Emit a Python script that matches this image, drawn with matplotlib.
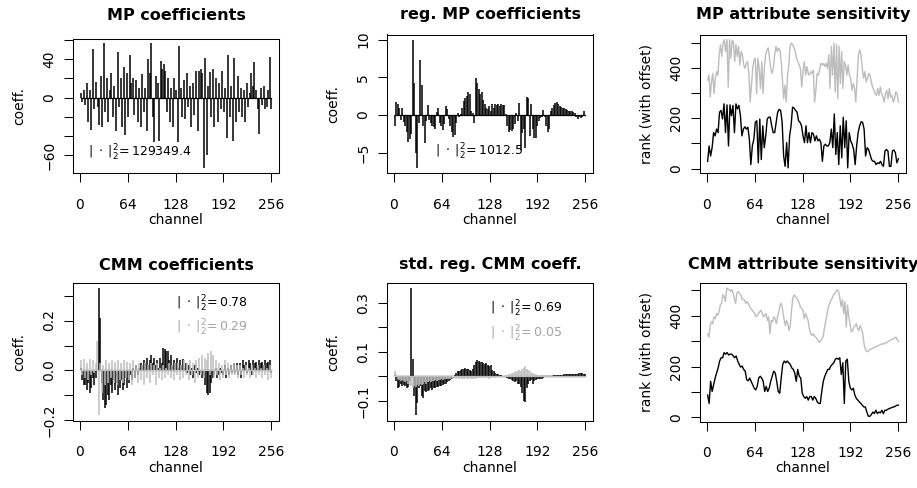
import numpy as np
import matplotlib
matplotlib.use("Agg")
import matplotlib.pyplot as plt

W, H = 917, 488
GREY = "#bdbdbd"
GREY_TXT = "#a3a3a3"

# ---------------- data (channel order 1..256) ----------------
mp_coef = [5, -5, 8, -8, 15, -25, 8, -34, 50, -12,
           16, -10, -28, 22, -30, 56, -15, 20, -25, 8,
           25, -20, 12, -35, 47, -10, 20, -30, 32, -39,
           25, -20, 44, 15, 20, -18, 18, -25, 10, -30,
           24, -15, 10, -35, 40, 25, 56, -20, -46, 22,
           15, -45, 38, 30, 35, 28, -15, 20, -25, 10,
           -30, 20, 8, -46, 53, 10, -20, 18, -22, 25,
           -10, 12, -30, 15, -18, 27, -35, 27, 30, 25,
           -73, 41, -59, 12, 26, -20, 30, -30, 20, -25,
           15, -12, 28, -15, 10, -42, 44, -20, 12, -45,
           41, -25, 22, -15, 10, -20, 8, -25, 15, -10,
           5, 25, 12, 37, 8, -12, -38, 10, -8, 12,
           -12, -10, 8, 42, -12]

reg_mp_coef = [-1.4, 1.7, 1.5, 1.0, -0.6, 1.0, -0.9, -1.5, -2.3, -3.6,
               -3.2, -2.5, 10.0, 4.2, -5.0, -7.0, -1.0, 7.3, 4.0, -1.5,
               -3.7, -0.8, 1.3, -0.6, -1.0, -1.4, -1.6, -1.8, 0.4, 1.0,
               -1.0, -1.5, -2.0, -1.2, 1.2, 0.8, -0.5, -1.5, -2.2, -2.9,
               -2.6, -1.0, 0.3, -0.3, 0.2, 1.0, 1.8, 2.2, 2.5, 3.0,
               2.8, 0.5, 0.3, -1.0, 4.9, 4.3, 3.5, 2.8, 3.0, 2.0,
               1.5, 1.0, 0.8, 1.2, 0.6, 1.5, 1.0, 1.5, 1.4, 1.5,
               1.2, 1.5, 1.3, 1.4, 0.1, -1.5, -2.2, -2.0, -2.1, -1.8,
               -1.2, 0.3, -0.8, 1.6, -4.6, -2.4, -1.8, -4.3, 2.4, 2.3,
               -2.8, 1.5, -1.8, -3.0, -3.0, -1.5, -0.8, -0.4, -0.2, 0.7,
               -0.3, -1.5, -2.2, -1.8, 0.5, 1.0, 1.3, 1.6, 1.7, 1.5,
               1.2, 1.1, 1.0, 0.9, 0.8, 0.7, 0.6, 0.6, 0.5, 0.4,
               0.3, -0.3, -0.5, -0.2, -0.4, -0.3, 0.5, -0.1]

mp_rank = [29, 90, 50, 83, 143, 130, 157, 143, 224, 231,
           197, 257, 143, 253, 90, 253, 210, 251, 143, 257,
           237, 251, 210, 130, 157, 166, 157, 164, 117, 16,
           90, 117, 184, 190, 23, 197, 36, 170, 83, 130,
           197, 204, 204, 170, 143, 143, 184, 224, 235, 231,
           184, 50, 9, 103, 3, 130, 170, 244, 240, 231,
           224, 190, 184, 170, 130, 103, 170, 103, 143, 103,
           143, 137, 110, 130, 110, 117, 103, 29, 90, 97,
           90, 90, 103, 157, 83, 217, 56, 143, 16, 170,
           43, 204, 83, 190, 3, 143, 110, 97, 76, 16,
           90, 143, 170, 186, 184, 157, 50, 83, 76, 56,
           36, 29, 29, 16, 23, 20, 29, 16, 9, 70,
           76, 70, 9, 9, 70, 74, 63, 23, 39]

mp_rank_offset = [351, 371, 284, 344, 378, 298, 358, 385, 371, 452,
                  492, 445, 499, 512, 465, 512, 324, 512, 438, 508,
                  505, 425, 492, 445, 485, 411, 465, 452, 411, 398,
                  418, 425, 378, 264, 331, 398, 432, 438, 298, 438,
                  398, 318, 425, 298, 398, 452, 472, 479, 438, 398,
                  378, 398, 452, 485, 465, 479, 472, 432, 358, 277,
                  331, 264, 371, 411, 485, 499, 492, 479, 465, 438,
                  425, 411, 398, 324, 385, 425, 371, 405, 378, 371,
                  385, 378, 391, 264, 311, 378, 371, 398, 418, 411,
                  418, 405, 418, 398, 452, 318, 485, 371, 499, 304,
                  492, 277, 485, 338, 465, 318, 425, 411, 371, 411,
                  371, 358, 311, 338, 318, 264, 358, 452, 472, 452,
                  398, 358, 385, 344, 358, 378, 371, 344, 324, 311,
                  298, 291, 318, 291, 324, 298, 284, 264, 298, 311,
                  277, 318, 284, 291, 264, 277, 304, 298, 264]

cmm_coef = [0.01, -0.04, -0.06, -0.06, -0.08, -0.05, -0.09, -0.07, -0.03, -0.06,
            -0.03, 0.0, 0.33, 0.21, -0.05, -0.12, -0.15, -0.14, -0.10, -0.12,
            -0.06, -0.09, -0.04, -0.08, -0.05, -0.10, -0.07, -0.04, -0.08, -0.06,
            -0.03, -0.07, -0.05, -0.02, -0.04, 0.01, -0.03, 0.02, -0.02, 0.01,
            0.03, 0.02, 0.04, 0.03, 0.05, 0.02, 0.04, 0.06, 0.03, 0.05,
            0.02, 0.04, 0.01, 0.05, 0.03, 0.09, 0.085, 0.08, 0.08, 0.04,
            0.06, 0.02, 0.04, 0.03, 0.05, 0.01, 0.04, 0.02, 0.045, 0.01,
            0.03, -0.01, 0.02, -0.02, 0.01, -0.03, 0.02, -0.01, 0.01, -0.02,
            -0.01, -0.03, -0.02, -0.06, -0.09, -0.10, -0.09, -0.05, -0.03, -0.02,
            0.01, -0.03, -0.02, 0.01, -0.01, -0.02, 0.02, -0.03, 0.01, -0.02,
            0.02, -0.01, 0.03, -0.01, 0.03, -0.02, 0.03, -0.03, 0.04, 0.02,
            0.035, -0.01, 0.04, 0.03, -0.02, 0.04, 0.03, 0.035, 0.01, 0.04,
            0.03, 0.035, 0.02, 0.04, 0.03, 0.035, 0.04, -0.01]

cmm_coef_alt = [0.04, -0.02, 0.045, -0.03, 0.03, -0.04, 0.045, -0.02, 0.04, -0.01,
                0.03, 0.12, -0.18, 0.03, -0.09, 0.02, -0.06, 0.04, -0.05, 0.03,
                -0.03, 0.04, -0.05, 0.035, -0.06, 0.04, -0.04, 0.03, -0.05, 0.04,
                -0.03, 0.035, -0.04, 0.03, -0.06, 0.04, -0.03, 0.02, -0.05, 0.03,
                -0.04, 0.02, -0.06, 0.03, -0.03, 0.02, -0.05, 0.03, -0.02, 0.02,
                -0.06, 0.03, -0.03, 0.01, -0.04, 0.02, -0.03, 0.01, -0.02, 0.03,
                -0.03, 0.02, -0.04, 0.03, -0.02, 0.03, -0.04, 0.02, -0.03, 0.04,
                -0.02, 0.03, -0.04, 0.04, -0.02, 0.03, -0.05, 0.04, -0.03, 0.05,
                -0.02, 0.06, -0.03, 0.05, 0.04, 0.07, -0.02, 0.08, 0.06, -0.03,
                0.04, -0.02, 0.03, -0.04, 0.02, -0.03, 0.04, -0.02, 0.03, -0.03,
                0.02, -0.02, 0.03, -0.02, 0.02, -0.03, 0.02, -0.02, 0.01, -0.03,
                0.02, -0.02, 0.01, -0.03, 0.02, -0.02, 0.01, -0.03, 0.02, -0.02,
                0.01, -0.03, 0.02, -0.02, 0.01, -0.04, 0.02, -0.03]

std_cmm_coef = [0.005, -0.02, -0.05, -0.045, -0.03, -0.04, -0.035, -0.04, -0.05, -0.045,
                -0.02, 0.36, 0.07, -0.08, -0.16, -0.11, -0.05, -0.04, -0.08, -0.09,
                -0.06, -0.065, -0.06, -0.055, -0.05, -0.055, -0.05, -0.05, -0.045, -0.045,
                -0.04, -0.04, -0.035, -0.03, -0.03, -0.025, -0.02, -0.015, -0.01, -0.005,
                0.005, 0.015, 0.02, 0.02, 0.025, 0.03, 0.03, 0.035, 0.03, 0.03,
                0.025, 0.02, 0.03, 0.045, 0.06, 0.065, 0.062, 0.06, 0.058, 0.055,
                0.05, 0.055, 0.045, 0.04, 0.045, 0.025, 0.02, 0.015, 0.01, 0.01,
                0.005, 0.003, 0.0, -0.003, -0.005, -0.008, -0.01, -0.012, -0.015, -0.02,
                -0.025, -0.02, -0.03, -0.03, -0.045, -0.07, -0.1, -0.105, -0.05, -0.03,
                -0.02, -0.015, -0.03, -0.02, -0.015, -0.01, -0.01, -0.012, -0.01, -0.008,
                -0.005, -0.003, 0.0, 0.0, 0.002, 0.003, 0.004, 0.005, 0.006, 0.006,
                0.007, 0.007, 0.007, 0.008, 0.008, 0.008, 0.009, 0.009, 0.009, 0.01,
                0.01, 0.01, 0.011, 0.012, 0.012, 0.012, 0.01, 0.008]

std_cmm_coef_alt = [0.02, 0.01, -0.01, -0.015, -0.02, -0.015, -0.02, -0.025, -0.02, -0.03,
                    -0.035, -0.04, -0.05, -0.04, -0.045, -0.035, -0.04, -0.03, -0.035, -0.03,
                    -0.025, -0.03, -0.025, -0.02, -0.025, -0.02, -0.02, -0.015, -0.02, -0.015,
                    -0.015, -0.012, -0.015, -0.01, -0.012, -0.01, -0.012, -0.01, -0.008, -0.01,
                    -0.008, -0.01, -0.006, -0.01, -0.008, -0.012, -0.01, -0.008, -0.012, -0.01,
                    -0.008, -0.012, -0.01, -0.008, -0.01, -0.006, -0.008, -0.005, -0.008, -0.006,
                    -0.005, -0.008, -0.006, -0.01, -0.006, -0.008, -0.005, -0.007, -0.005, -0.004,
                    -0.003, -0.004, -0.002, 0.0, 0.003, 0.005, 0.008, 0.01, 0.012, 0.015,
                    0.018, 0.02, 0.022, 0.025, 0.02, 0.03, 0.035, 0.04, 0.03, 0.025,
                    0.02, 0.015, 0.012, 0.01, 0.008, 0.006, 0.005, 0.005, 0.004, 0.004,
                    0.003, 0.003, 0.003, 0.003, 0.003, 0.003, 0.002, 0.002, 0.002, 0.002,
                    0.002, 0.002, 0.002, 0.002, 0.002, 0.002, 0.002, 0.002, 0.002, 0.002,
                    0.002, 0.002, 0.002, 0.002, 0.002, 0.002, 0.002, 0.002]

cmm_rank = [88, 55, 142, 102, 128, 155, 175, 195, 222, 235,
            235, 255, 249, 255, 246, 249, 249, 242, 235, 242,
            222, 209, 198, 202, 189, 182, 148, 144, 155, 142,
            128, 115, 108, 122, 155, 162, 155, 142, 102, 122,
            102, 115, 142, 162, 182, 175, 142, 102, 95, 155,
            209, 222, 215, 222, 215, 209, 195, 189, 175, 142,
            189, 162, 155, 95, 82, 75, 82, 68, 82, 82,
            68, 82, 75, 61, 55, 55, 102, 142, 162, 175,
            189, 189, 202, 209, 215, 229, 233, 229, 235, 169,
            215, 55, 222, 229, 142, 115, 108, 115, 88, 75,
            68, 61, 55, 48, 41, 41, 21, 5, 4, 11,
            21, 15, 28, 15, 21, 18, 28, 15, 28, 28,
            32, 35, 37, 40, 41, 44, 48, 48]

cmm_rank_offset = [329, 316, 362, 376, 369, 396, 389, 409, 402, 416,
                   443, 449, 483, 476, 456, 509, 505, 503, 496, 503,
                   489, 469, 449, 489, 496, 489, 483, 469, 463, 463,
                   449, 456, 449, 436, 429, 422, 416, 409, 396, 402,
                   409, 416, 422, 409, 396, 402, 409, 382, 396, 329,
                   382, 376, 396, 389, 369, 396, 416, 443, 449, 422,
                   389, 362, 382, 369, 342, 362, 422, 469, 483, 476,
                   469, 463, 449, 436, 429, 422, 389, 409, 396, 382,
                   349, 329, 322, 329, 322, 316, 309, 302, 295, 302,
                   309, 322, 356, 382, 409, 436, 449, 463, 469, 483,
                   489, 496, 503, 496, 469, 436, 463, 409, 456, 356,
                   443, 396, 369, 336, 342, 356, 362, 369, 349, 342,
                   362, 349, 329, 289, 269, 259, 259, 265, 269, 269,
                   273, 275, 278, 281, 281, 285, 287, 289, 289, 291,
                   294, 294, 299, 302, 305, 308, 308, 313, 316, 308, 299]

norm_mp = "129349.4"
norm_reg_mp = "1012.5"
norm_cmm = ["0.78", "0.29"]
norm_std_cmm = ["0.69", "0.05"]

x_ticks = [0, 64, 128, 192, 256]


def chan(vals):
    return np.linspace(1, 256, len(vals))


def px_rect(x0, y0, x1, y1):
    return [x0 / W, 1 - y1 / H, (x1 - x0) / W, (y1 - y0) / H]


def hplot(ax, vals, color):
    x = chan(vals)
    ax.vlines(x, 0, vals, colors=color, lw=1.1)
    ax.plot([x[0], x[-1]], [0, 0], color=color, lw=0.9)


def finish(ax, series, yticks, ylabels, ylabel, title, box, title_y):
    lo = min(min(s) for s in series)
    hi = max(max(s) for s in series)
    pad = 0.04 * (hi - lo)
    ax.set_xlim(1 - 0.04 * 255, 256 + 0.04 * 255)
    ax.set_xticks(x_ticks)
    ax.set_yticks(yticks)
    ax.set_yticklabels(ylabels)
    ax.set_ylim(lo - pad, hi + pad)
    for s in ax.spines.values():
        s.set_linewidth(0.75)
    ax.tick_params(axis="both", direction="out", length=6.7, width=0.75,
                   labelsize=10, color="black")
    ax.tick_params(axis="x", pad=11)
    ax.tick_params(axis="y", pad=5.5)
    for lab in ax.get_yticklabels():
        lab.set_rotation(90)
        lab.set_va("center")
    ax.set_xlabel("channel", fontsize=10, va="center")
    ax.set_ylabel(ylabel, fontsize=10, va="center")
    x0, y0, x1, y1 = box
    ax.xaxis.set_label_coords(0.5, -47 / (y1 - y0))
    ax.yaxis.set_label_coords(-54 / (x1 - x0), 0.5)
    fig.text(((x0 + x1) / 2) / W, 1 - title_y / H, title, ha="center",
             va="baseline", fontsize=11.5, fontweight="bold")


def norm_label(v):
    return r"$|\;\cdot\;|_2^2\!=$" + v


fig = plt.figure(figsize=(W / 100, H / 100), dpi=100)

boxes = [(73, 38.5, 279, 173), (387, 34.5, 593, 173), (700, 34.5, 906, 173),
         (73, 283, 279, 420.5), (387, 283, 593, 420.5), (700, 283, 906, 421.5)]
axs = [fig.add_axes(px_rect(*b)) for b in boxes]
TOP_T, BOT_T = 19.5, 269.5

# MP coefficients
ax = axs[0]
hplot(ax, mp_coef, "black")
finish(ax, [mp_coef], [-60, -40, -20, 0, 20, 40, 60],
       ["\u221260", "", "", "0", "", "40", ""], "coeff.", "MP coefficients",
       boxes[0], TOP_T)
ax.text(0.073, 0.146, norm_label(norm_mp), transform=ax.transAxes,
        fontsize=9, ha="left", va="center")

# reg. MP coefficients
ax = axs[1]
hplot(ax, reg_mp_coef, "black")
finish(ax, [reg_mp_coef], [-5, 0, 5, 10], ["\u22125", "0", "5", "10"],
       "coeff.", "reg. MP coefficients", boxes[1], TOP_T)
ax.text(0.233, 0.152, norm_label(norm_reg_mp), transform=ax.transAxes,
        fontsize=9, ha="left", va="center")

# MP attribute sensitivity
ax = axs[2]
ax.plot(chan(mp_rank), mp_rank, color="black", lw=1.0)
ax.plot(chan(mp_rank_offset), mp_rank_offset, color=GREY, lw=1.0)
finish(ax, [mp_rank, mp_rank_offset], [0, 100, 200, 300, 400, 500],
       ["0", "", "200", "", "400", ""], "rank (with offset)",
       "MP attribute sensitivity", boxes[2], TOP_T)

# CMM coefficients
ax = axs[3]
hplot(ax, cmm_coef, "black")
hplot(ax, cmm_coef_alt, GREY)
finish(ax, [cmm_coef, cmm_coef_alt], [-0.2, -0.1, 0.0, 0.1, 0.2, 0.3],
       ["\u22120.2", "", "0.0", "", "0.2", ""], "coeff.", "CMM coefficients",
       boxes[3], BOT_T)
ax.text(0.5, 0.849, norm_label(norm_cmm[0]), transform=ax.transAxes,
        fontsize=9, ha="left", va="center")
ax.text(0.5, 0.675, norm_label(norm_cmm[1]), transform=ax.transAxes,
        fontsize=9, ha="left", va="center", color=GREY_TXT)

# std. reg. CMM coeff.
ax = axs[4]
hplot(ax, std_cmm_coef, "black")
hplot(ax, std_cmm_coef_alt, GREY)
finish(ax, [std_cmm_coef, std_cmm_coef_alt], [-0.1, 0.0, 0.1, 0.2, 0.3],
       ["\u22120.1", "", "0.1", "", "0.3"], "coeff.", "std. reg. CMM coeff.",
       boxes[4], BOT_T)
ax.text(0.5, 0.809, norm_label(norm_std_cmm[0]), transform=ax.transAxes,
        fontsize=9, ha="left", va="center")
ax.text(0.5, 0.627, norm_label(norm_std_cmm[1]), transform=ax.transAxes,
        fontsize=9, ha="left", va="center", color=GREY_TXT)

# CMM attribute sensitivity
ax = axs[5]
ax.plot(chan(cmm_rank), cmm_rank, color="black", lw=1.0)
ax.plot(chan(cmm_rank_offset), cmm_rank_offset, color=GREY, lw=1.0)
finish(ax, [cmm_rank, cmm_rank_offset], [0, 100, 200, 300, 400, 500],
       ["0", "", "200", "", "400", ""], "rank (with offset)",
       "CMM attribute sensitivity", boxes[5], BOT_T)

fig.savefig("out.png", dpi=100)
